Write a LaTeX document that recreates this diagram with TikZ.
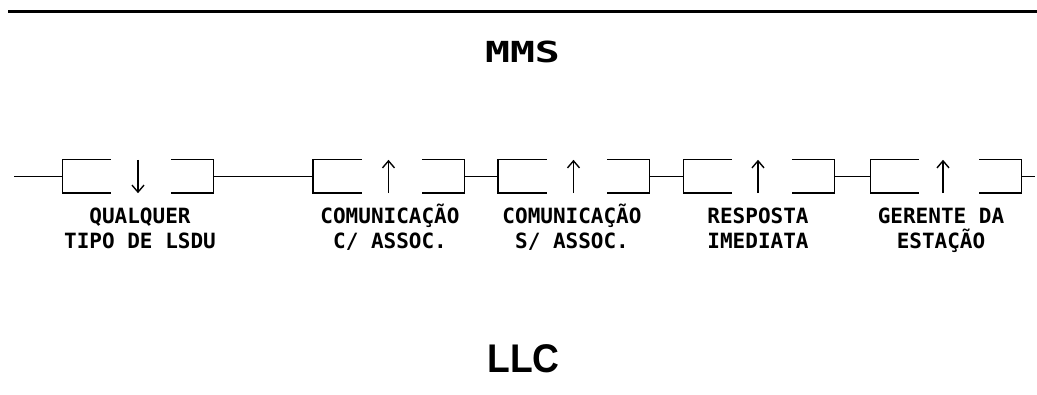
\documentclass[tikz,border=0pt]{standalone}
\usepackage{fontspec}
\newfontfamily\monofont{DejaVu Sans Mono}
\newfontfamily\headfont{Liberation Sans}
\usetikzlibrary{arrows.meta}
\tikzset{
  frame/.style={draw=none, minimum width=151pt, minimum height=33pt, inner sep=0pt},
  piece/.style={line width=1.4pt, line cap=rect},
  link/.style={line width=1.4pt},
  flow/.style={line width=1.4pt, -{Straight Barb[length=7pt,width=12pt,line width=1.4pt]}},
  lbl/.style={font=\monofont\bfseries\fontsize{21}{25}\selectfont, anchor=base, inner sep=0pt},
}
\newcommand{\boxpieces}[1]{%
  \draw[piece] ([xshift=48pt]#1.north west) -- (#1.north west) -- (#1.south west) -- ([xshift=48pt]#1.south west);
  \draw[piece] ([xshift=-42pt]#1.north east) -- (#1.north east) -- (#1.south east) -- ([xshift=-42pt]#1.south east);
}
\begin{document}
\begin{tikzpicture}[x=1pt,y=1pt]
\useasboundingbox (0,0) rectangle (1037,394);
% top rule
\coordinate (tl) at (8,382.5);
\coordinate (tr) at (1037,382.5);
\draw[line width=2.6pt] (tl) -- (tr);
% headings
\node[anchor=base, inner sep=0pt] (mms) at (522.5,331) {\scalebox{1.43}[1]{\monofont\bfseries\fontsize{29}{29}\selectfont MMS}};
\node[anchor=base, inner sep=0pt] (llc) at (523.5,22) {\scalebox{0.93}[1]{\headfont\bfseries\fontsize{40}{40}\selectfont LLC}};
% boxes
\node[frame] (b1) at (138,217.5) {};
\node[frame] (b2) at (388.5,217.5) {};
\node[frame] (b3) at (573.5,217.5) {};
\node[frame] (b4) at (759,217.5) {};
\node[frame] (b5) at (946,217.5) {};
\boxpieces{b1}\boxpieces{b2}\boxpieces{b3}\boxpieces{b4}\boxpieces{b5}
% connectors
\coordinate (lin) at (14,217.5);
\coordinate (lout) at (1035,217.5);
\draw[link] (lin) -- (b1.west);
\draw[link] (b1.east) -- (b2.west);
\draw[link] (b2.east) -- (b3.west);
\draw[link] (b3.east) -- (b4.west);
\draw[link] (b4.east) -- (b5.west);
\draw[link] (b5.east) -- (lout);
% arrows
\draw[flow] (b1.north) -- (b1.south);
\draw[flow] (b2.south) -- (b2.north);
\draw[flow] (b3.south) -- (b3.north);
\draw[flow] ([xshift=-1pt]b4.south) -- ([xshift=-1pt]b4.north);
\draw[flow] ([xshift=-3pt]b5.south) -- ([xshift=-3pt]b5.north);
% labels
\node[lbl] (l1a) at (140,170) {QUALQUER};
\node[lbl] (l1b) at (140,145) {TIPO DE LSDU};
\node[lbl] (l2a) at (390,170) {COMUNICAÇÃO};
\node[lbl] (l2b) at (390,145) {C/ ASSOC.};
\node[lbl] (l3a) at (572,170) {COMUNICAÇÃO};
\node[lbl] (l3b) at (572,145) {S/ ASSOC.};
\node[lbl] (l4a) at (758,170) {RESPOSTA};
\node[lbl] (l4b) at (758,145) {IMEDIATA};
\node[lbl] (l5a) at (941,170) {GERENTE DA};
\node[lbl] (l5b) at (941,145) {ESTAÇÃO};
\end{tikzpicture}
\end{document}
